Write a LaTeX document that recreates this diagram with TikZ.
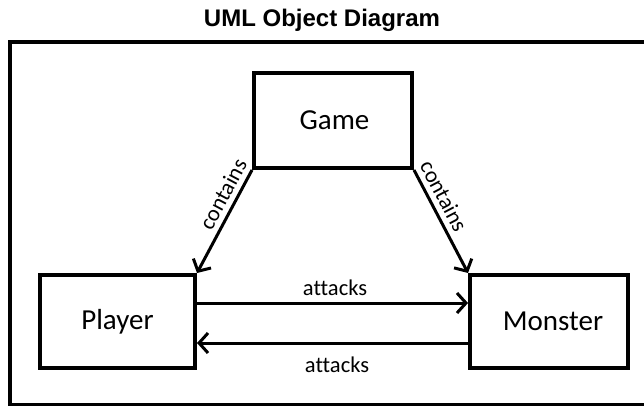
\documentclass[tikz,border=0pt]{standalone}
\usepackage{fontspec}
\setmainfont{Carlito}[Ligatures=NoCommon]
\newfontfamily\titlefont{Liberation Sans}
\usetikzlibrary{arrows.meta}
\tikzset{
  objbox/.style={draw, line width=4pt, inner sep=0pt, font=\fontsize{29}{32}\selectfont},
  conn/.style={line width=3pt, -{Straight Barb[length=9pt,width=20pt,line width=3pt]}},
  lbl/.style={font=\fontsize{22.5}{25}\selectfont, inner sep=0pt},
  frame/.style={line width=4pt}
}
\begin{document}
\begin{tikzpicture}[x=1pt,y=-1pt]
\useasboundingbox (0,0) rectangle (644,406);
\fill[white] (0,0) rectangle (644,406);
\node[font=\titlefont\bfseries\fontsize{24}{28}\selectfont] (title) at (322,20) {UML Object Diagram};
\draw[frame] (10,42.5) rectangle (670,404.5);
\node[objbox, minimum width=158pt, minimum height=95pt] (game) at (333,120.5) {\hspace*{3pt}Game};
\node[objbox, minimum width=155pt, minimum height=93pt] (player) at (117.5,321.5) {Player};
\node[objbox, minimum width=158pt, minimum height=93pt] (monster) at (549,321.5) {\hspace*{8pt}Monster};
\draw[conn] (game.south west) -- node[lbl, sloped, pos=0.3, above=5pt] (c1) {contains} (player.north east);
\draw[conn] (game.south east) -- node[lbl, sloped, pos=0.32, above=5pt] (c2) {contains} (monster.north west);
\draw[conn] ([yshift=18.5pt]player.east) -- ([yshift=18.5pt]monster.west);
\draw[conn] ([yshift=-21.5pt]monster.west) -- ([yshift=-21.5pt]player.east);
\node[lbl] (a1) at (335,288) {attacks};
\node[lbl] (a2) at (337,365) {attacks};
\end{tikzpicture}
\end{document}
